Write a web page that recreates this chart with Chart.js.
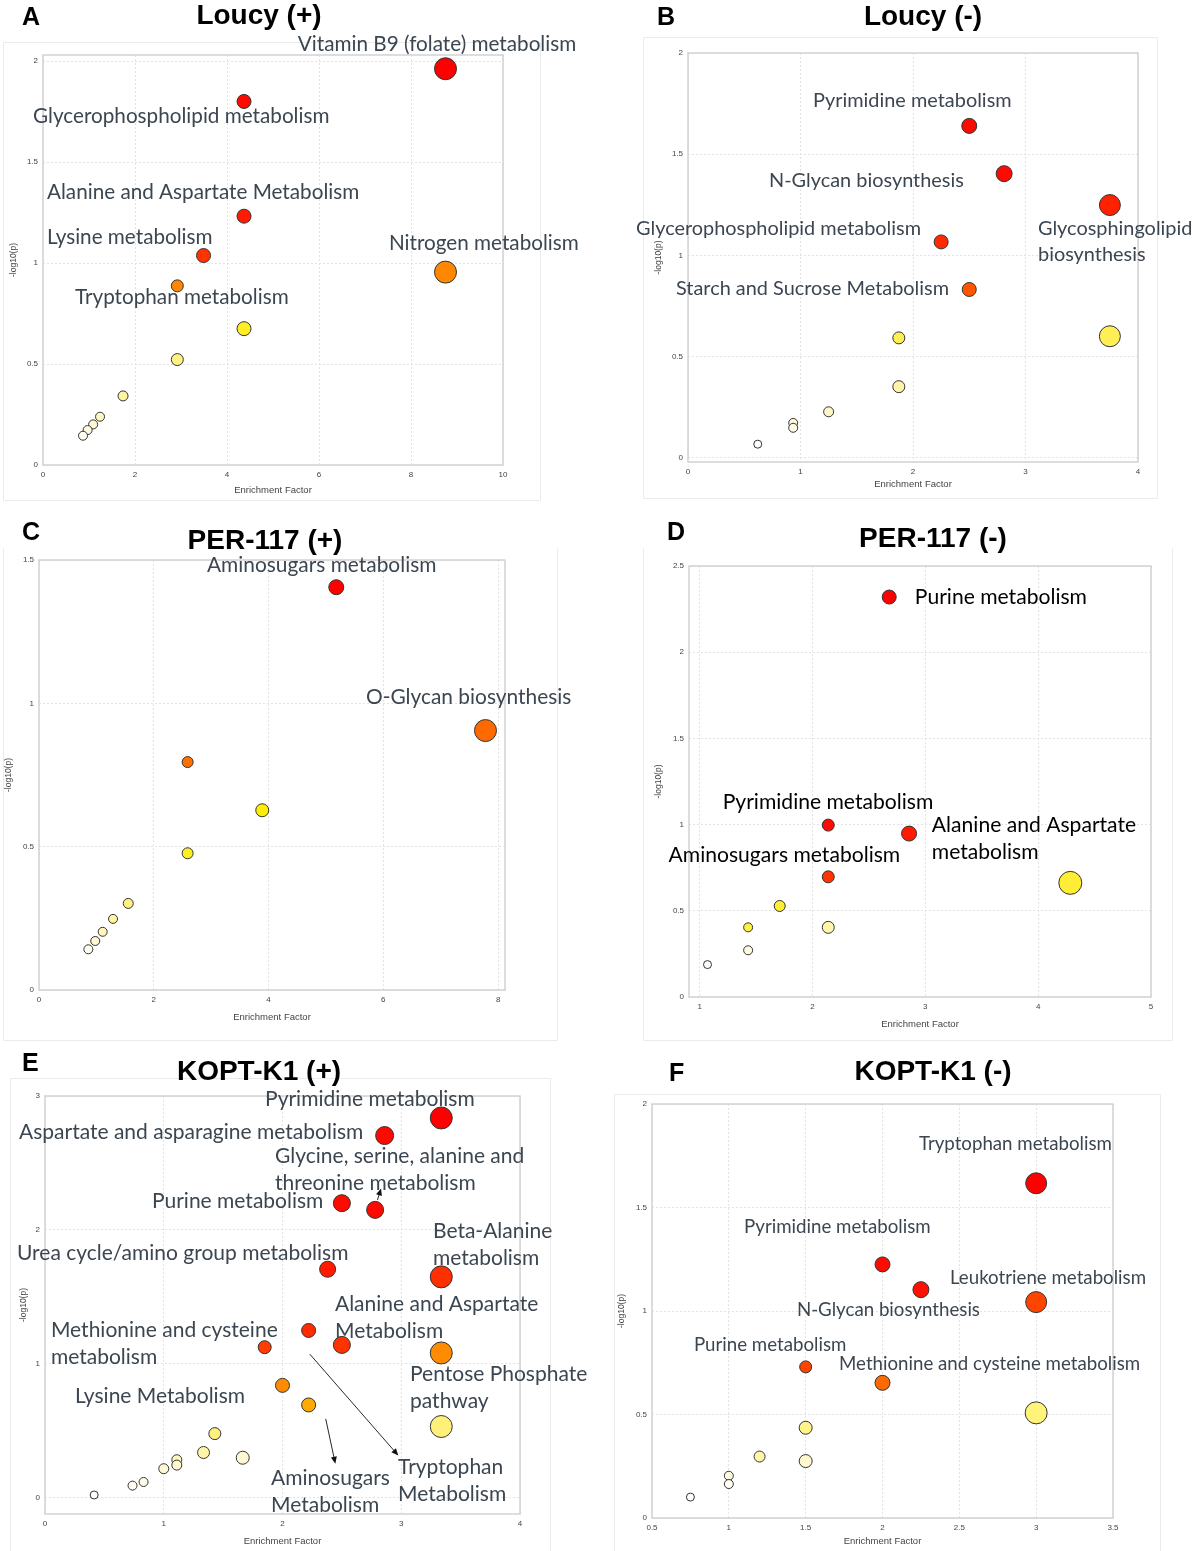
<!DOCTYPE html>
<html><head><meta charset="utf-8">
<script src="https://cdn.jsdelivr.net/npm/chart.js@4.4.1/dist/chart.umd.min.js"></script>
<style>
body{margin:0;width:1192px;height:1551px;position:relative;background:#fff;overflow:hidden;font-family:"Liberation Sans",Arial,sans-serif}
canvas{position:absolute;z-index:1}
.letter{position:absolute;z-index:2;font:bold 25px "Liberation Sans",Arial,sans-serif;line-height:25px;color:#000}
.title{position:absolute;z-index:2;font:bold 28px "Liberation Sans",Arial,sans-serif;line-height:28px;color:#000;transform:translateX(-50%);white-space:nowrap}
</style></head><body>
<div class="letter" style="left:22px;top:4px">A</div>
<div class="title" style="left:259px;top:1px">Loucy (+)</div>
<div class="letter" style="left:657px;top:4px">B</div>
<div class="title" style="left:923px;top:2px">Loucy (-)</div>
<div class="letter" style="left:22px;top:519px">C</div>
<div class="title" style="left:265px;top:526px">PER-117 (+)</div>
<div class="letter" style="left:667px;top:519px">D</div>
<div class="title" style="left:933px;top:524px">PER-117 (-)</div>
<div class="letter" style="left:22px;top:1050px">E</div>
<div class="title" style="left:259px;top:1057px">KOPT-K1 (+)</div>
<div class="letter" style="left:669px;top:1060px">F</div>
<div class="title" style="left:933px;top:1057px">KOPT-K1 (-)</div>
<script>
// ---------- DATA ----------
// Panel A: Loucy (+)
const efA = [8.75, 4.37, 4.37, 3.49, 2.92, 4.37, 2.92, 1.74, 1.24, 1.09, 0.97, 0.87, 8.75];
const lpA = [1.962, 1.80, 1.232, 1.037, 0.887, 0.675, 0.522, 0.342, 0.239, 0.201, 0.173, 0.145, 0.955];
const szA = [11, 7, 7, 7, 6, 7, 6, 5, 4.5, 4.5, 4.5, 4.5, 11];
const xTicksA = [0, 2, 4, 6, 8, 10];
const yTicksA = [0, 0.5, 1, 1.5, 2];
const namesA = ['Vitamin B9 (folate) metabolism', 'Glycerophospholipid metabolism', 'Alanine and Aspartate Metabolism', 'Lysine metabolism', 'Nitrogen metabolism', 'Tryptophan metabolism'];

// Panel B: Loucy (-)
const efB = [2.50, 2.81, 3.75, 2.25, 2.50, 1.874, 3.75, 1.874, 1.25, 0.935, 0.935, 0.62];
const lpB = [1.64, 1.404, 1.249, 1.067, 0.832, 0.593, 0.601, 0.352, 0.228, 0.173, 0.149, 0.068];
const szB = [7.5, 8, 10.5, 7, 7, 6, 10.5, 6, 5, 4.5, 4.5, 4];
const xTicksB = [0, 1, 2, 3, 4];
const yTicksB = [0, 0.5, 1, 1.5, 2];
const namesB = ['Pyrimidine metabolism', 'N-Glycan biosynthesis', 'Glycerophospholipid metabolism', ['Glycosphingolipid', 'biosynthesis'], 'Starch and Sucrose Metabolism'];

// Panel C: PER-117 (+)
const efC = [5.18, 7.78, 2.59, 3.89, 2.59, 1.555, 1.29, 1.11, 0.98, 0.86];
const lpC = [1.405, 0.905, 0.795, 0.627, 0.477, 0.302, 0.248, 0.203, 0.171, 0.142];
const szC = [7.5, 11, 5.5, 6.5, 5.5, 5, 4.5, 4.5, 4.5, 4.5];
const xTicksC = [0, 2, 4, 6, 8];
const yTicksC = [0, 0.5, 1, 1.5];
const namesC = ['Aminosugars metabolism', 'O-Glycan biosynthesis'];

// Panel D: PER-117 (-)
const efD = [2.68, 2.14, 2.856, 2.14, 4.285, 1.71, 1.43, 2.14, 1.43, 1.07];
const lpD = [2.32, 0.997, 0.948, 0.697, 0.662, 0.528, 0.404, 0.404, 0.271, 0.188];
const szD = [7, 6, 7.5, 6, 11.5, 5.5, 4.5, 6, 4.5, 4];
const xTicksD = [1, 2, 3, 4, 5];
const yTicksD = [0, 0.5, 1, 1.5, 2, 2.5];
const namesD = ['Purine metabolism', 'Pyrimidine metabolism', ['Alanine and Aspartate', 'metabolism'], 'Aminosugars metabolism'];

// Panel E: KOPT-K1 (+)
const efE = [3.337, 2.86, 2.50, 2.78, 2.38, 3.337, 2.22, 1.85, 2.50, 3.337, 2.0, 2.22, 3.337, 1.43, 1.335, 1.665, 1.11, 1.11, 1.0, 0.83, 0.737, 0.414];
const lpE = [2.836, 2.705, 2.20, 2.15, 1.707, 1.65, 1.25, 1.125, 1.142, 1.082, 0.84, 0.694, 0.533, 0.48, 0.339, 0.30, 0.285, 0.245, 0.218, 0.119, 0.092, 0.022];
const szE = [11, 9, 8.5, 8.5, 8, 11, 7, 6.5, 8.5, 11, 7, 7, 11, 6, 6, 6.5, 5, 5, 5, 4.5, 4.5, 4];
const xTicksE = [0, 1, 2, 3, 4];
const yTicksE = [0, 1, 2, 3];
const namesE = ['Pyrimidine metabolism', 'Aspartate and asparagine metabolism', ['Glycine, serine, alanine and', 'threonine metabolism'], 'Purine metabolism', ['Beta-Alanine', 'metabolism'], 'Urea cycle/amino group metabolism', ['Alanine and Aspartate', 'Metabolism'], ['Methionine and cysteine', 'metabolism'], ['Pentose Phosphate', 'pathway'], 'Lysine Metabolism', ['Aminosugars', 'Metabolism'], ['Tryptophan', 'Metabolism']];

// Panel F: KOPT-K1 (-)
const efF = [3.0, 2.0, 2.25, 3.0, 1.5, 2.0, 3.0, 1.5, 1.2, 1.5, 1.0, 1.0, 0.75];
const lpF = [1.617, 1.225, 1.103, 1.043, 0.73, 0.653, 0.508, 0.436, 0.297, 0.275, 0.204, 0.164, 0.101];
const szF = [10.5, 7.5, 8, 10.5, 6, 7.5, 11, 6.5, 5.5, 6.5, 4.5, 4.5, 4];
const xTicksF = [0.5, 1, 1.5, 2, 2.5, 3, 3.5];
const yTicksF = [0, 0.5, 1, 1.5, 2];
const namesF = ['Tryptophan metabolism', 'Pyrimidine metabolism', 'Leukotriene metabolism', 'N-Glycan biosynthesis', 'Purine metabolism', 'Methionine and cysteine metabolism'];

// ---------- STYLES / LAYOUT ----------
const colA = ['#FF0000','#FF0A00','#FF1A00','#FF3300','#FF8800','#FFEE22','#FFF280','#FFF4A0','#FFF7C0','#FFF9D0','#FFFBE0','#FFFFF5','#FF8800'];
const colB = ['#FF0A00','#FF0A00','#FF2200','#FF2A00','#FF5500','#FFEE50','#FFEE55','#FFF4A8','#FFF6C8','#FFF8D8','#FFFBEA','#FFFFFF'];
const colC = ['#FF0000','#FF6A00','#FF7000','#FFEE00','#FFEE22','#FFF080','#FFF4A0','#FFF6B8','#FFF8D0','#FFFDF0'];
const colD = ['#FF0000','#FF0A00','#FF1A00','#FF3300','#FFEE33','#FFEE33','#FFEE44','#FFF6AA','#FFFBE0','#FFFFFF'];
const colE = ['#FF0000','#FF0800','#FF0A00','#FF0A00','#FF1A00','#FF3000','#FF2A00','#FF3D00','#FF3300','#FF8C00','#FF8C00','#FFAA00','#FFF07A','#FFF080','#FFF4A8','#FFF8D0','#FFF6C0','#FFF8D0','#FFF8D8','#FFFBE8','#FFFDF0','#FFFFFF'];
const colF = ['#FF0000','#FF0A00','#FF1000','#FF4400','#FF4400','#FF6A00','#FFF47A','#FFF48A','#FFF4A8','#FFF8D0','#FFFBE0','#FFFFF5','#FFFFFF'];

// label anchor positions (data units, left edge / vertical middle of first line)
const posA = [[5.54,2.084],[-0.217,1.728],[0.087,1.351],[0.087,1.129],[7.52,1.099],[0.696,0.832]];
const posB = [[1.111,1.763],[0.72,1.368],[-0.462,1.131],[3.111,1.131],[-0.107,0.835]];
const posC = [[2.927,1.482],[5.697,1.022]];
const posD = [[2.907,2.32],[1.204,1.131],[3.058,0.998],[0.725,0.824]];
const posE = [[1.853,2.978],[-0.219,2.731],[1.937,2.552],[0.901,2.216],[3.267,1.993],[-0.236,1.828],[2.442,1.448],[0.05,1.254],[3.074,0.925],[0.253,0.761],[1.903,0.149],[2.973,0.231]];
const posF = [[2.237,1.807],[1.099,1.406],[2.439,1.159],[1.443,1.005],[0.773,0.836],[1.717,0.744]];
const arrowsE = [[2.23,1.073,2.975,0.317],[2.364,0.59,2.445,0.255],[2.80,2.224,2.83,2.31]];

const panels = [
 {xs:efA, ys:lpA, rs:szA, col:colA, names:namesA, pos:posA, xt:xTicksA, yt:yTicksA, canvas:[0,0,600,510], plot:[43,55,503,465], yw:38, xh:35, frame:[3,42,540,500], top:true, xr:[0,10], yr:[0,2.03], lc:'#3c4651', fs:20.7, lh:26.5},
 {xs:efB, ys:lpB, rs:szB, col:colB, names:namesB, pos:posB, xt:xTicksB, yt:yTicksB, canvas:[600,0,592,510], plot:[688,53,1138,462], yw:38, xh:32, frame:[643,37,1157,498], top:true, xr:[0,4], yr:[-0.02,2], lc:'#3c4651', fs:19.9, lh:26},
 {xs:efC, ys:lpC, rs:szC, col:colC, names:namesC, pos:posC, xt:xTicksC, yt:yTicksC, canvas:[0,510,600,535], plot:[39,560,505,990], yw:39, xh:37, frame:[3,548,557,1040], top:false, xr:[0,8.12], yr:[0,1.5], lc:'#3c4651', fs:20.9, lh:27},
 {xs:efD, ys:lpD, rs:szD, col:colD, names:namesD, pos:posD, xt:xTicksD, yt:yTicksD, canvas:[600,510,592,535], plot:[689,566,1151,997], yw:39, xh:37, frame:[643,548,1172,1040], top:false, xr:[0.906,5], yr:[0,2.5], lc:'#000000', fs:21.1, lh:27},
 {xs:efE, ys:lpE, rs:szE, col:colE, names:namesE, pos:posE, xt:xTicksE, yt:yTicksE, canvas:[0,1045,600,506], plot:[45,1096,520,1514], yw:30, xh:37, frame:[10,1078,550,1560], top:true, xr:[0,4], yr:[-0.12,3], lc:'#3c4651', fs:21.0, lh:27, arrows:arrowsE},
 {xs:efF, ys:lpF, rs:szF, col:colF, names:namesF, pos:posF, xt:xTicksF, yt:yTicksF, canvas:[600,1045,592,506], plot:[652,1104,1113,1518], yw:39, xh:33, frame:[614,1094,1160,1560], top:true, xr:[0.5,3.5], yr:[0,2], lc:'#3c4651', fs:18.7, lh:26}
];

const fmtTick = v => String(Math.round(v*100)/100);

function makePanel(p){
  const [cx,cy,cw,ch] = p.canvas;
  const [L,T,R,B] = p.plot;
  const cv = document.createElement('canvas');
  cv.width = cw; cv.height = ch;
  cv.style.left = cx+'px'; cv.style.top = cy+'px';
  cv.style.width = cw+'px'; cv.style.height = ch+'px';
  document.body.appendChild(cv);
  const pad = {left: L-cx-p.yw, top: T-cy, right: cx+cw-R, bottom: cy+ch-B-p.xh};
  const decor = {
    id:'decor'+cx+'_'+cy,
    beforeDraw(chart){
      const c = chart.ctx;
      c.save();
      c.strokeStyle = '#ebebeb'; c.lineWidth = 1;
      const f = p.frame.map((v,i)=> v - (i%2 ? cy : cx) + 0.5);
      c.beginPath();
      if (p.top){ c.moveTo(f[0], f[3]); c.lineTo(f[0], f[1]); c.lineTo(f[2], f[1]); c.lineTo(f[2], f[3]); c.lineTo(f[0], f[3]); }
      else { c.moveTo(f[0], f[1]); c.lineTo(f[0], f[3]); c.lineTo(f[2], f[3]); c.lineTo(f[2], f[1]); }
      c.stroke();
      c.restore();
    },
    beforeDatasetsDraw(chart){
      const c = chart.ctx, a = chart.chartArea;
      c.save();
      c.strokeStyle = '#d2d2d2'; c.lineWidth = 1.5;
      c.strokeRect(a.left, a.top, a.right-a.left, a.bottom-a.top);
      c.restore();
    },
    afterDatasetsDraw(chart){
      const c = chart.ctx, sx = chart.scales.x, sy = chart.scales.y;
      c.save();
      if (p.arrows){
        c.strokeStyle = '#111'; c.fillStyle = '#111'; c.lineWidth = 0.9;
        p.arrows.forEach(ar=>{
          const x1 = sx.getPixelForValue(ar[0]), y1 = sy.getPixelForValue(ar[1]);
          const x2 = sx.getPixelForValue(ar[2]), y2 = sy.getPixelForValue(ar[3]);
          const ang = Math.atan2(y2-y1, x2-x1), hl = 7, hw = 3;
          c.beginPath(); c.moveTo(x1,y1); c.lineTo(x2 - Math.cos(ang)*hl*0.8, y2 - Math.sin(ang)*hl*0.8); c.stroke();
          c.beginPath();
          c.moveTo(x2,y2);
          c.lineTo(x2 - Math.cos(ang)*hl + Math.sin(ang)*hw, y2 - Math.sin(ang)*hl - Math.cos(ang)*hw);
          c.lineTo(x2 - Math.cos(ang)*hl - Math.sin(ang)*hw, y2 - Math.sin(ang)*hl + Math.cos(ang)*hw);
          c.closePath(); c.fill();
        });
      }
      c.font = p.fs + 'px Lato, "Open Sans", sans-serif';
      c.fillStyle = p.lc; c.textAlign = 'left'; c.textBaseline = 'middle';
      p.names.forEach((nm,i)=>{
        const lines = Array.isArray(nm) ? nm : [nm];
        const x = sx.getPixelForValue(p.pos[i][0]), y = sy.getPixelForValue(p.pos[i][1]);
        lines.forEach((ln,k)=> c.fillText(ln, x, y + k*p.lh));
      });
      c.restore();
    }
  };
  const tickFont = {family:'"Liberation Sans", Arial, sans-serif', size:8};
  new Chart(cv, {
    type:'bubble',
    data:{datasets:[{
      data: p.xs.map((x,i)=>({x:x, y:p.ys[i], r:p.rs[i]})),
      backgroundColor: p.col, borderColor:'#333333', borderWidth:1, clip:false
    }]},
    options:{
      responsive:false, animation:false, events:[],
      layout:{padding:pad},
      plugins:{legend:{display:false}, tooltip:{enabled:false}, title:{display:false}},
      scales:{
        x:{type:'linear', position:'bottom', min:p.xr[0], max:p.xr[1],
          afterFit(s){ s.height = p.xh; },
          afterBuildTicks(s){ s.ticks = p.xt.map(v=>({value:v})); },
          grid:{color:'#e3e3e3', lineWidth:1, drawTicks:false},
          border:{display:false, dash:[2,2]},
          ticks:{font:tickFont, color:'#444', padding:5, maxRotation:0, autoSkip:false, callback:fmtTick},
          title:{display:true, text:'Enrichment Factor', color:'#444', font:{family:'"Liberation Sans", Arial, sans-serif', size:9.5}, padding:{top:0,bottom:4}}
        },
        y:{type:'linear', position:'left', min:p.yr[0], max:p.yr[1],
          afterFit(s){ s.width = p.yw; },
          afterBuildTicks(s){ s.ticks = p.yt.map(v=>({value:v})); },
          grid:{color:'#e3e3e3', lineWidth:1, drawTicks:false},
          border:{display:false, dash:[2,2]},
          ticks:{font:tickFont, color:'#444', padding:5, autoSkip:false, callback:fmtTick},
          title:{display:true, text:'-log10(p)', color:'#444', font:{family:'"Liberation Sans", Arial, sans-serif', size:8.5}, padding:{top:4,bottom:0}}
        }
      }
    },
    plugins:[decor]
  });
}
panels.forEach(makePanel);
</script>
</body></html>
